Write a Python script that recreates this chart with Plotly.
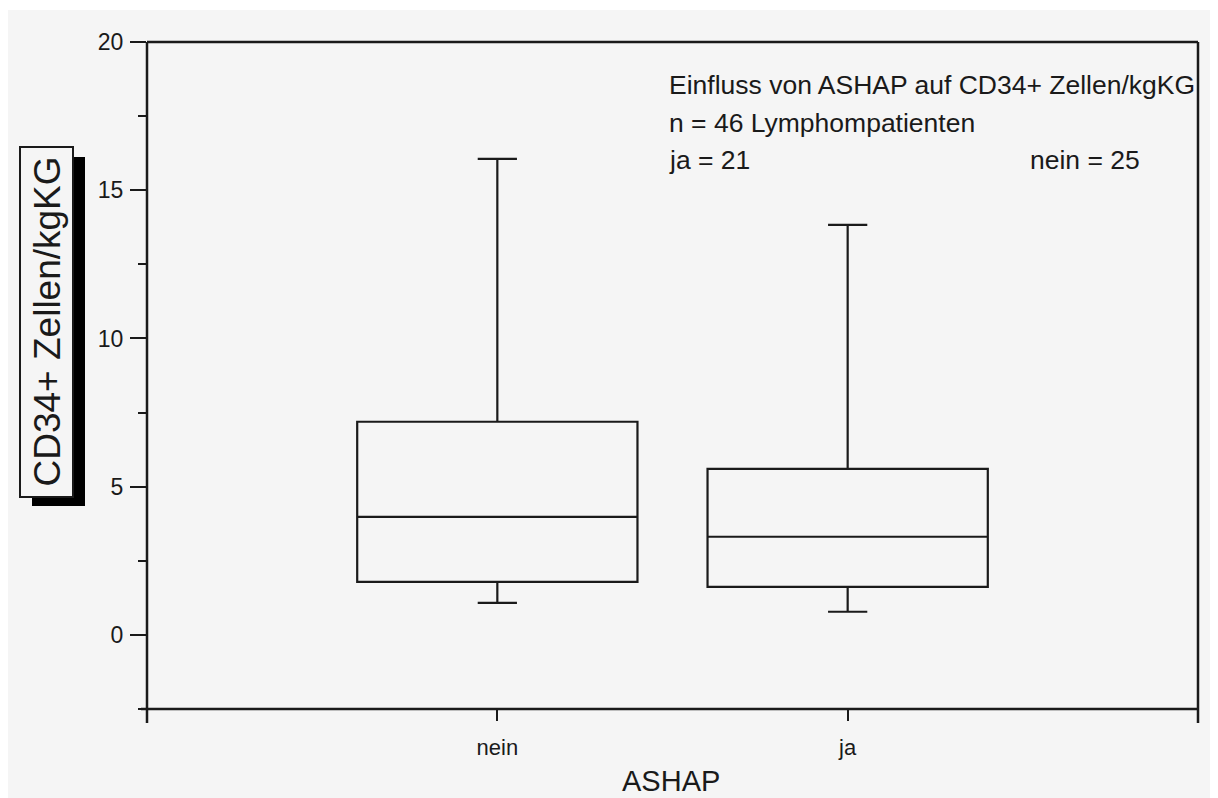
import plotly.graph_objects as go

# ---- data ----
categories = ["nein", "ja"]
q1_vals = [1.79, 1.62]
median_vals = [3.98, 3.31]
q3_vals = [7.19, 5.60]
lower_whisker = [1.08, 0.78]
upper_whisker = [16.06, 13.83]
y_tick_vals = [0, 5, 10, 15, 20]
y_tick_text = ["0", "5", "10", "15", "20"]
note_lines = ["Einfluss von ASHAP auf CD34+ Zellen/kgKG", "n = 46 Lymphompatienten", "ja = 21"]
note_right = "nein = 25"
x_title = "ASHAP"
y_title = "CD34+ Zellen/kgKG"

OFF = 8  # default page body margin
W, H = 1218 - OFF, 798 - OFF
# plot area in page pixels
L, R, T, B = 147, 1198, 42, 709
FONT = "Liberation Sans, Arial, sans-serif"
INK = "#1a1a1a"
BG = "#f5f5f5"


def px(x):
    return (x - L) / (R - L)


def py(y):
    return (B - y) / (B - T)


fig = go.Figure()
fig.add_trace(go.Box(
    x=categories,
    q1=q1_vals, median=median_vals, q3=q3_vals,
    lowerfence=lower_whisker, upperfence=upper_whisker,
    width=0.8, whiskerwidth=0.14,
    line=dict(color=INK, width=2.2),
    fillcolor="rgba(0,0,0,0)",
    boxpoints=False, showlegend=False, hoverinfo="skip",
))

shapes = [
    dict(type="rect", xref="paper", yref="paper", x0=px(OFF), x1=px(W + OFF), y0=py(10), y1=py(H + OFF),
         fillcolor=BG, line=dict(width=0), layer="below"),
    dict(type="rect", xref="paper", yref="paper", x0=px(32), x1=px(85), y0=py(157), y1=py(506),
         fillcolor="#000000", line=dict(width=0), layer="below"),
    dict(type="rect", xref="paper", yref="paper", x0=px(20), x1=px(73), y0=py(147), y1=py(497),
         fillcolor=BG, line=dict(color=INK, width=2), layer="below"),
]
frame = [
    (L, T, R, T), (L, T, L, 723), (141, B, R, B), (R, T, R, 723),
]
for x0, y0, x1, y1 in frame:
    shapes.append(dict(type="line", xref="paper", yref="paper", x0=px(x0), x1=px(x1),
                       y0=py(y0), y1=py(y1), line=dict(color=INK, width=2.5), layer="above"))

annotations = []
for i, line in enumerate(note_lines):
    annotations.append(dict(text=line, xref="paper", yref="paper", x=px(667), y=py(85 + i * 37.5),
                            xanchor="left", yanchor="middle", showarrow=False,
                            font=dict(family=FONT, size=26.5, color=INK)))
annotations.append(dict(text=note_right, xref="paper", yref="paper", x=px(1028), y=py(160),
                        xanchor="left", yanchor="middle", showarrow=False,
                        font=dict(family=FONT, size=26.5, color=INK)))
annotations.append(dict(text=x_title, xref="paper", yref="paper", x=px(671), y=py(781),
                        xanchor="center", yanchor="middle", showarrow=False,
                        font=dict(family=FONT, size=29, color=INK)))
annotations.append(dict(text=y_title, xref="paper", yref="paper", x=px(46.5), y=py(322),
                        xanchor="center", yanchor="middle", showarrow=False, textangle=-90,
                        font=dict(family=FONT, size=37, color=INK)))

fig.update_layout(
    width=W, height=H,
    margin=dict(l=L - OFF, r=W + OFF - R, t=T - OFF, b=H + OFF - B),
    paper_bgcolor="white", plot_bgcolor="rgba(0,0,0,0)",
    shapes=shapes, annotations=annotations,
    font=dict(family=FONT, color=INK),
    xaxis=dict(
        type="category", range=[-1, 2], showgrid=False, zeroline=False, showline=False,
        ticks="outside", ticklen=11, tickwidth=2, tickcolor=INK,
        tickfont=dict(family=FONT, size=22, color=INK), ticklabelstandoff=8,
    ),
    yaxis=dict(
        range=[-2.5, 20], showgrid=False, zeroline=False, showline=False,
        tickvals=y_tick_vals, ticktext=y_tick_text,
        ticks="outside", ticklen=16, tickwidth=2, tickcolor=INK,
        tickfont=dict(family=FONT, size=23, color=INK), ticklabelstandoff=2,
        minor=dict(tickvals=[-2.5, 2.5, 7.5, 12.5, 17.5], ticks="outside", ticklen=8,
                   tickwidth=2, tickcolor=INK),
    ),
)

fig.write_html("out.html")
